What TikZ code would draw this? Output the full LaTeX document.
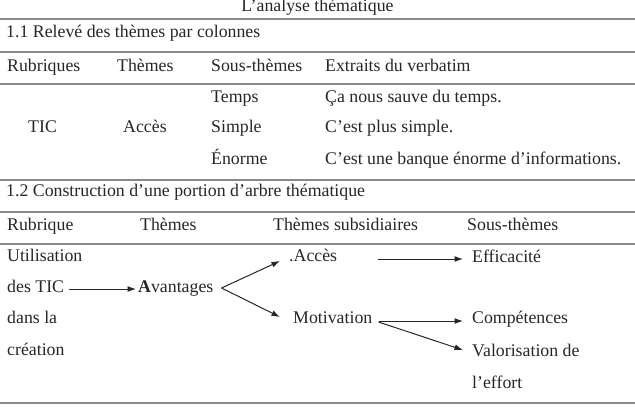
\documentclass[tikz,border=0pt]{standalone}
\usepackage{fontspec}
\setmainfont{Liberation Serif}
\usetikzlibrary{arrows.meta}
\definecolor{ink}{HTML}{262626}
\definecolor{rulegray}{HTML}{8A8A8A}
\begin{document}
\begin{tikzpicture}[x=1pt,y=-1pt,
  txt/.style={anchor=base west, inner sep=0pt, text=ink, font=\fontsize{17.8}{21}\selectfont},
  hrule/.style={draw=rulegray, line width=1.4pt},
  arr/.style={draw=ink, line width=1pt, -{Latex[length=8.5pt,width=6pt]}}]
\useasboundingbox (0,0) rectangle (635,408);
% rules
\draw[hrule] (0,19) -- (635,19);
\draw[hrule] (0,52) -- (635,52);
\draw[hrule] (0,84) -- (635,84);
\draw[hrule] (0,180) -- (635,180);
\draw[hrule] (0,212) -- (635,212);
\draw[hrule] (0,244) -- (635,244);
\draw[hrule] (0,403) -- (635,403);
% title
\node[txt, anchor=base] (title) at (317.5,11) {L’analyse thématique};
% part 1.1
\node[txt] (h11) at (6,37) {1.1 Relevé des thèmes par colonnes};
\node[txt] (c1) at (7,71) {Rubriques};
\node[txt] (c2) at (117,71) {Thèmes};
\node[txt] (c3) at (211,71) {Sous-thèmes};
\node[txt] (c4) at (325,71) {Extraits du verbatim};
\node[txt] (temps) at (211,102) {Temps};
\node[txt] (v1) at (325,102) {Ça nous sauve du temps.};
\node[txt] (tic) at (28,132) {TIC};
\node[txt] (acc1) at (123,132) {Accès};
\node[txt] (simple) at (211,132) {Simple};
\node[txt] (v2) at (325,132) {C’est plus simple.};
\node[txt] (enorme) at (211,164) {Énorme};
\node[txt] (v3) at (325,164) {C’est une banque énorme d’informations.};
% part 1.2
\node[txt] (h12) at (6,196) {1.2 Construction d’une portion d’arbre thématique};
\node[txt] (d1) at (7,230) {Rubrique};
\node[txt] (d2) at (140,230) {Thèmes};
\node[txt] (d3) at (273,230) {Thèmes subsidiaires};
\node[txt] (d4) at (467,230) {Sous-thèmes};
\node[txt] (util) at (7,261) {Utilisation};
\node[txt] (destic) at (7,292) {des TIC};
\node[txt] (dans) at (7,323) {dans la};
\node[txt] (creation) at (7,355) {création};
\node[txt] (avant) at (138,292) {\textbf{A}vantages};
\node[txt] (acces) at (289,261) {.Accès};
\node[txt] (motiv) at (293,323) {Motivation};
\node[txt] (effic) at (472,262) {Efficacité};
\node[txt] (compet) at (472,323) {Compétences};
\node[txt] (valor) at (472,356) {Valorisation de};
\node[txt] (effort) at (472,388) {l’effort};
% arrows
\coordinate (fork) at ([xshift=8pt,yshift=4pt]avant.base east);
\draw[arr] ([xshift=5pt,yshift=3pt]destic.base east) -- ([xshift=-2pt,yshift=3pt]avant.base west);
\draw[arr] (fork) -- ([xshift=-9pt,yshift=0pt]acces.base west);
\draw[arr] (fork) -- ([xshift=-13pt,yshift=6pt]motiv.base west);
\draw[arr] ([xshift=-94pt,yshift=3pt]effic.base west) -- ([xshift=-9pt,yshift=3pt]effic.base west);
\draw[arr] ([xshift=6pt,yshift=2pt]motiv.base east) -- ([xshift=-9pt,yshift=2pt]compet.base west);
\draw[arr] ([xshift=6pt,yshift=1pt]motiv.base east) -- ([xshift=-9pt,yshift=6pt]valor.base west);
\end{tikzpicture}
\end{document}
